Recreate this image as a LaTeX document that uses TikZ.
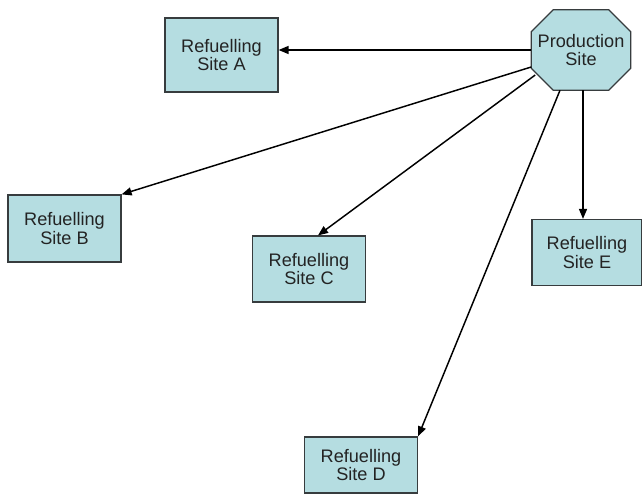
\documentclass[tikz,border=0pt]{standalone}
\usepackage{fontspec}
\setmainfont{Liberation Sans}
\usetikzlibrary{arrows.meta}
\definecolor{sitefill}{RGB}{181,221,225}
\definecolor{siteline}{RGB}{55,60,62}
\definecolor{sitetext}{RGB}{35,35,35}
\begin{document}
\begin{tikzpicture}[x=0.75pt,y=-0.75pt,
  sitebox/.style={draw=siteline,fill=sitefill,line width=0.9pt,inner sep=0pt,
    align=center,text=sitetext,font=\fontsize{13.6}{14.2}\selectfont,
    minimum width=113*0.75pt},
  plant/.style={inner sep=0pt,align=center,text=sitetext,
    font=\fontsize{13.6}{14.2}\selectfont,
    minimum width=99*0.75pt,minimum height=80*0.75pt},
  octo/.style={draw=siteline,fill=sitefill,line width=0.9pt,line join=miter},
  link/.style={line width=1.1pt,-{Triangle[length=7.5pt,width=6pt]}}]
\useasboundingbox (0,0) rectangle (642,498);

% production site: an octagon cut from the corners of its frame node
\node[plant] (prod) at (581,50) {};
\draw[octo] ([shift={(22,0)}]prod.north west) -- ([shift={(-22,0)}]prod.north east)
  -- ([shift={(0,22)}]prod.north east) -- ([shift={(0,-22)}]prod.south east)
  -- ([shift={(-22,0)}]prod.south east) -- ([shift={(22,0)}]prod.south west)
  -- ([shift={(0,-22)}]prod.south west) -- ([shift={(0,22)}]prod.north west) -- cycle;
\node[plant] (prodlabel) at (prod.center) {Production\\Site};

\node[sitebox,minimum height=74*0.75pt] (A) at (221.5,55) {Refuelling\\Site A};
\node[sitebox,minimum height=67*0.75pt] (B) at (64.5,228.5) {Refuelling\\Site B};
\node[sitebox,minimum height=66*0.75pt] (C) at (309,269) {Refuelling\\Site C};
\node[sitebox,minimum height=56*0.75pt] (D) at (361,465) {Refuelling\\Site D};
\node[sitebox,minimum width=110*0.75pt,minimum height=66*0.75pt] (E) at (587,252.5) {Refuelling\\Site E};

\draw[link] (prod.west) -- (prod.west -| A.east);
\draw[link] ([shift={(0,17)}]prod.west) -- (B.north east);
\draw[link] ([shift={(4,25)}]prod.west) -- (C.75);
\draw[link] ([shift={(-21,0)}]prod.south) -- (D.north east);
\draw[link] ([shift={(2,0)}]prod.south) -- ([shift={(2,0)}]prod.south |- E.north);
\end{tikzpicture}
\end{document}
